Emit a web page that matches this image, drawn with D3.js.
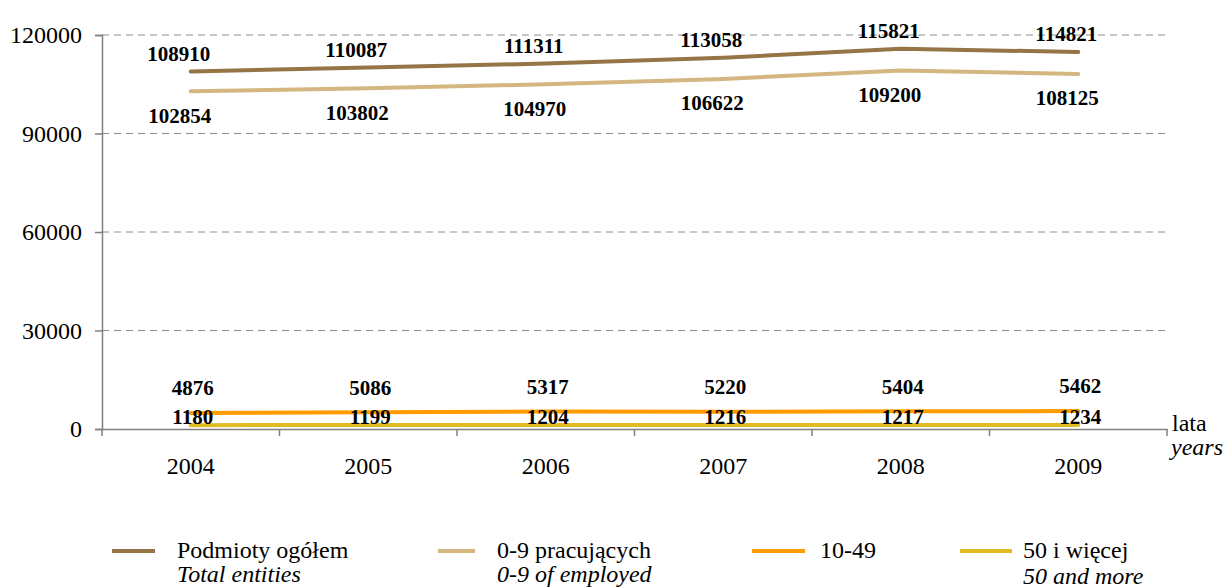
<!DOCTYPE html>
<html>
<head>
<meta charset="utf-8">
<script src="https://cdn.jsdelivr.net/npm/d3@7"></script>
<style>
  body { margin: 0; background: #fff; }
</style>
</head>
<body>
<svg id="chart" width="1227" height="588"></svg>
<script>
const years = ["2004", "2005", "2006", "2007", "2008", "2009"];
const total = [108910, 110087, 111311, 113058, 115821, 114821];
const micro = [102854, 103802, 104970, 106622, 109200, 108125];
const small = [4876, 5086, 5317, 5220, 5404, 5462];
const large = [1180, 1199, 1204, 1216, 1217, 1234];
const yTicks = [0, 30000, 60000, 90000, 120000];

const series = [
  { pl: "Podmioty ogółem", en: "Total entities", values: total, color: "#957446", dx: -12, dy: -18 },
  { pl: "0-9 pracujących", en: "0-9 of employed", values: micro, color: "#d4b680", dx: -11, dy: 24 },
  { pl: "10-49", en: "", values: small, color: "#ff9c00", dx: 2, dy: -25 },
  { pl: "50 i więcej", en: "50 and more", values: large, color: "#e0bb22", dx: 2, dy: -8 }
];

const FONT = '"Liberation Serif", "Times New Roman", serif';
const svg = d3.select("#chart").style("font-family", FONT);
const plotL = 102, plotR = 1167, plotT = 35, plotB = 429;

const x = d3.scaleBand().domain(years).range([plotL, plotR]);
const y = d3.scaleLinear().domain([0, 120000]).range([plotB, plotT]);
const cx = d => x(d) + x.bandwidth() / 2;

// grid
svg.append("g")
  .selectAll("line")
  .data(yTicks.filter(d => d > 0))
  .join("line")
  .attr("x1", plotL).attr("x2", plotR)
  .attr("y1", d => y(d)).attr("y2", d => y(d))
  .attr("stroke", "#8c8c8c")
  .attr("stroke-width", 1)
  .attr("stroke-dasharray", "7,5");

// y axis
const yAxis = svg.append("g")
  .attr("transform", `translate(${plotL},0)`)
  .call(d3.axisLeft(y).tickValues(yTicks).tickSize(7).tickPadding(13).tickFormat(d3.format("d")));
yAxis.select(".domain").attr("stroke", "#808080").attr("stroke-width", 1.5);
yAxis.selectAll(".tick line").attr("stroke", "#808080").attr("stroke-width", 1.5);
yAxis.selectAll("text").style("font-size", "24px").style("font-family", FONT).attr("fill", "#000");

// x axis
const xAxis = svg.append("g")
  .attr("transform", `translate(0,${plotB})`)
  .call(d3.axisBottom(x).tickSize(0).tickPadding(28));
xAxis.select(".domain").attr("stroke", "#808080").attr("stroke-width", 1.5);
xAxis.selectAll("text").style("font-size", "24px").style("font-family", FONT).attr("fill", "#000");
xAxis.selectAll(".xtick")
  .data(years.concat(["end"]))
  .join("line")
  .attr("class", "xtick")
  .attr("x1", (d, i) => i < years.length ? x(d) : plotR)
  .attr("x2", (d, i) => i < years.length ? x(d) : plotR)
  .attr("y1", 0).attr("y2", 7)
  .attr("stroke", "#808080").attr("stroke-width", 1.5);

svg.append("text").attr("x", 1172).attr("y", 431).style("font-size", "24px").style("font-family", FONT).text("lata");
svg.append("text").attr("x", 1171).attr("y", 455).style("font-size", "24px").style("font-family", FONT)
  .style("font-style", "italic").text("years");

// lines
const line = d3.line().x((d, i) => cx(years[i])).y(d => y(d));
svg.append("g")
  .selectAll("path")
  .data(series.slice().reverse())
  .join("path")
  .attr("d", s => line(s.values))
  .attr("fill", "none")
  .attr("stroke", s => s.color)
  .attr("stroke-width", 4)
  .attr("stroke-linecap", "round")
  .attr("stroke-linejoin", "round");

// data labels
series.forEach(s => {
  svg.append("g")
    .selectAll("text")
    .data(s.values)
    .join("text")
    .attr("x", (d, i) => cx(years[i]) + s.dx)
    .attr("y", d => y(d) + s.dy)
    .attr("dy", "0.35em")
    .attr("text-anchor", "middle")
    .style("font-family", FONT)
    .style("font-size", "21px")
    .style("font-weight", "bold")
    .text(d => d);
});

// legend
const legendX = [112, 438, 752, 960];
const legendW = [43, 37, 53, 52];
const leg = svg.append("g")
  .selectAll("g")
  .data(series)
  .join("g")
  .attr("transform", (s, i) => `translate(${legendX[i]},551)`);
leg.append("line")
  .attr("x1", 0).attr("x2", (s, i) => legendW[i])
  .attr("y1", 0).attr("y2", 0)
  .attr("stroke", s => s.color).attr("stroke-width", 4);
leg.append("text")
  .attr("x", (s, i) => legendW[i] + (i === 3 ? 11 : i === 2 ? 15 : 22))
  .attr("y", 7)
  .style("font-family", FONT)
  .style("font-size", "24px")
  .text(s => s.pl);
leg.append("text")
  .attr("x", (s, i) => legendW[i] + (i === 3 ? 11 : 22))
  .attr("y", (s, i) => i === 3 ? 33 : 31)
  .style("font-family", FONT)
  .style("font-size", "24px")
  .style("font-style", "italic")
  .text(s => s.en);
</script>
</body>
</html>
